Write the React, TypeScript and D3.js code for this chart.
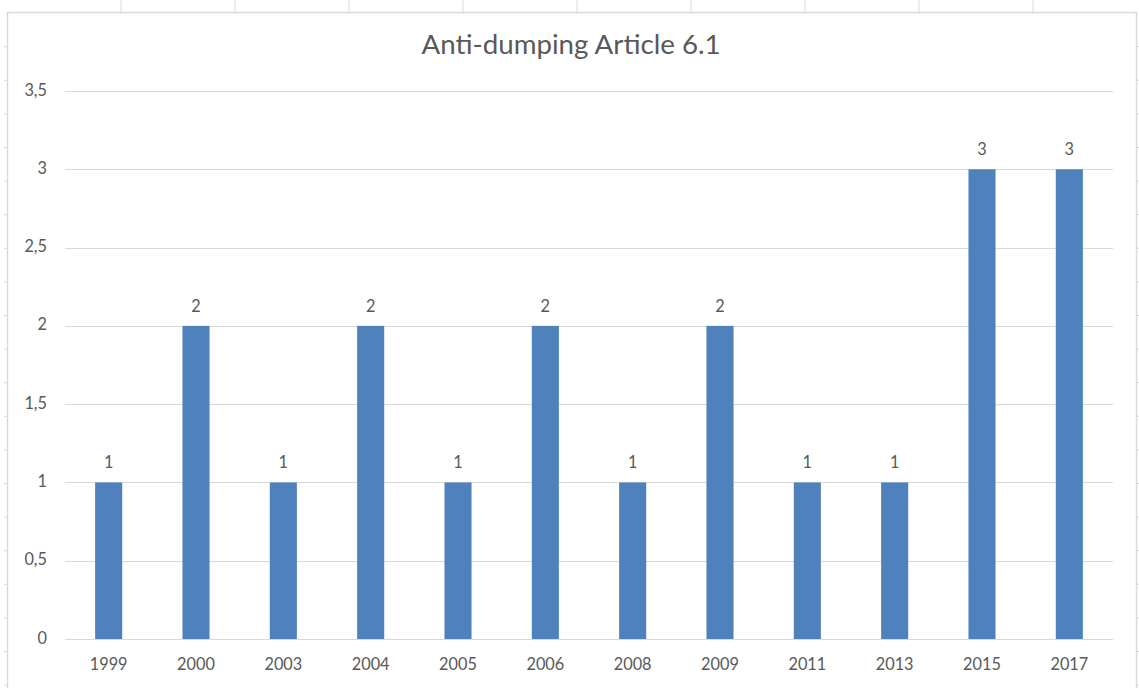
import React from "react";
import * as d3 from "d3";

// Cases per year
const years = ["1999", "2000", "2003", "2004", "2005", "2006", "2008", "2009", "2011", "2013", "2015", "2017"];
const counts = [1, 2, 1, 2, 1, 2, 1, 2, 1, 1, 3, 3];
const yTicks = [0, 0.5, 1, 1.5, 2, 2.5, 3, 3.5];
const title = "Anti-dumping Article 6.1";

const W = 1139;
const H = 688;
const FONT = "Lato, 'Open Sans', sans-serif";
const TEXT = "#595959";
const GRID = "#d9d9d9";
const BAR = "#4f81bd";

const commaFmt = d3.formatLocale({ decimal: ",", thousands: ".", grouping: [3], currency: ["", ""] }).format("~g");

export default function App() {
  const x = d3.scaleBand<string>().domain(years).range([65, 1113]).paddingInner(0.69).paddingOuter(0.345);
  const y = d3.scaleLinear().domain([0, 3.5]).range([639, 91]);

  // spreadsheet cell lines peeking around the chart frame
  const colLines = d3.range(121, 1137, 114);
  const rowLines = d3.range(46.7, H, 33.6);

  return (
    <svg
      width={W}
      height={H}
      style={{ position: "absolute", left: 0, top: 0, background: "#fff" }}
      fontFamily={FONT}
    >
      {colLines.map((cx) => (
        <line key={"c" + cx} x1={cx} x2={cx} y1={0} y2={12} stroke={GRID} strokeWidth={1} />
      ))}
      {rowLines.map((ry) => (
        <g key={"r" + ry}>
          <line x1={4} x2={7} y1={ry} y2={ry} stroke={GRID} strokeWidth={1} />
          <line x1={1137} x2={1139} y1={ry} y2={ry} stroke={GRID} strokeWidth={1} />
        </g>
      ))}
      {/* chart frame */}
      <path d={`M7.5,${H} V12.5 H1136.5 V${H}`} fill="none" stroke={GRID} strokeWidth={1.5} />

      <text x={571} y={53.5} textAnchor="middle" fontSize={27.7} fill={TEXT}>
        {title}
      </text>

      {yTicks.map((t) => (
        <g key={"y" + t}>
          <line x1={65} x2={1113} y1={Math.round(y(t)) + 0.5} y2={Math.round(y(t)) + 0.5} stroke={GRID} strokeWidth={1} />
          <text x={47} y={y(t) + 4.5} textAnchor="end" fontSize={16.3} fill={TEXT}>
            {commaFmt(t)}
          </text>
        </g>
      ))}

      {years.map((yr, i) => (
        <g key={yr}>
          <rect x={x(yr)} y={y(counts[i])} width={x.bandwidth()} height={y(0) - y(counts[i])} fill={BAR} />
          <text x={(x(yr) as number) + x.bandwidth() / 2} y={y(counts[i]) - 14} textAnchor="middle" fontSize={16.3} fill={TEXT}>
            {counts[i]}
          </text>
          <text x={(x(yr) as number) + x.bandwidth() / 2} y={670} textAnchor="middle" fontSize={16.3} fill={TEXT}>
            {yr}
          </text>
        </g>
      ))}
    </svg>
  );
}
